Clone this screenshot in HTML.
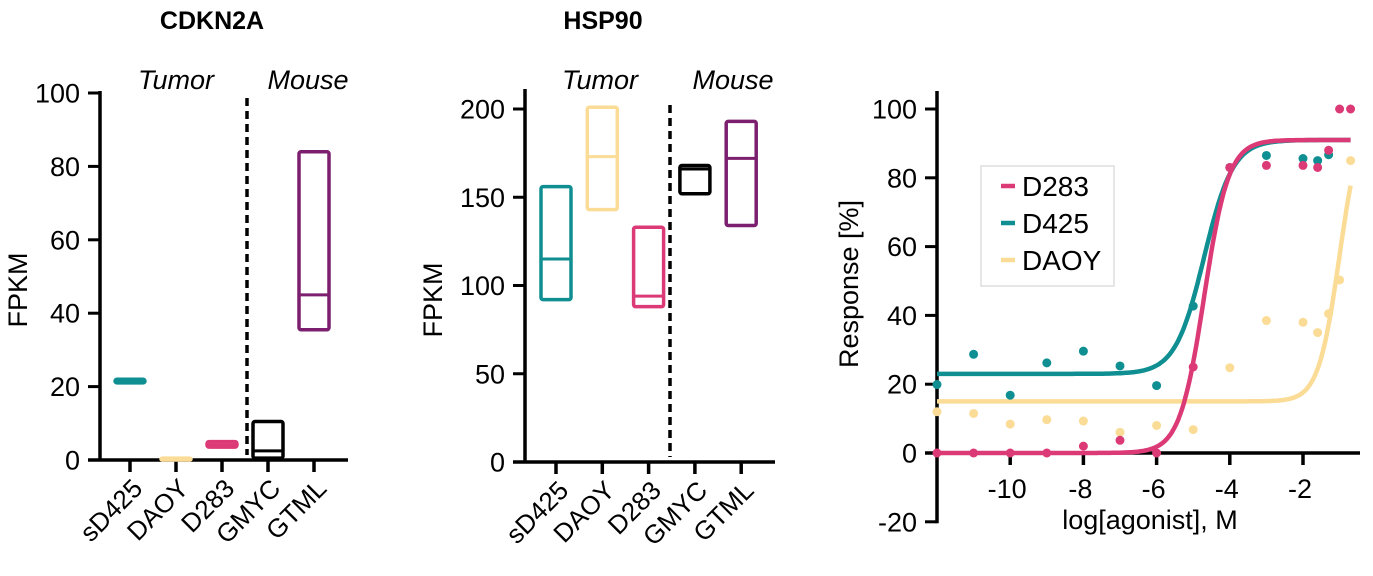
<!DOCTYPE html>
<html><head><meta charset="utf-8"><style>
body{margin:0;background:#fff;}
svg{display:block;font-family:"Liberation Sans",Arial,sans-serif;}
</style></head><body>
<svg id="root" width="1373" height="576" viewBox="0 0 1373 576"></svg>
<script>
const NS="http://www.w3.org/2000/svg";
const root=document.getElementById('root');
function mk(tag,attrs,parent,text){const e=document.createElementNS(NS,tag);for(const k in attrs)e.setAttribute(k,attrs[k]);if(text!==undefined)e.textContent=text;(parent||root).appendChild(e);return e;}

// ---------- data ----------
const boxCategories=["sD425","DAOY","D283","GMYC","GTML"];
const boxColors=["#0f8f92","#fbdc96","#dc3a76","#000000","#7b1f6e"];
const cdkn2aMin=[21,0,3.5,0.5,35.5];
const cdkn2aMed=[21.5,0.2,4.2,2.5,45];
const cdkn2aMax=[22,0.5,5,10.5,84];
const cdkn2aTicks=[0,20,40,60,80,100];
const hsp90Min=[92,143,88,152,134];
const hsp90Med=[115,173,94,166,172];
const hsp90Max=[156,201,133,168,193];
const hsp90Ticks=[0,50,100,150,200];

const doseX=[-12,-11,-10,-9,-8,-7,-6,-5,-4,-3,-2,-1.6,-1.3,-1.0,-0.7];
const d283Y=[0,0,0,0,2,3.7,0,25,83,83.6,83.6,83,88,100,100];
const d425Y=[19.9,28.7,16.8,26.2,29.6,25.3,19.6,42.7,83,86.5,85.6,85,86.7,null,null];
const daoyY=[12,11.5,8.4,9.7,9.3,6,8,6.8,24.8,38.5,38,35,40.5,50.3,85];
const fitBottom=[0,23,15];
const fitTop=[91,91,100];
const fitEC50=[-4.7,-4.7,-1.0];
const fitHill=[1.3,1.1,1.5];
const doseTicksX=[-10,-8,-6,-4,-2];
const doseTicksY=[-20,0,20,40,60,80,100];

// ---------- box panels ----------
function boxPanel(o){
  const g=mk('g',{},root);
  
  
  const ys=v=>o.y0+(v-0)*(o.y1-o.y0)/(o.vmax);
  const t=mk('text',{x:o.titleX,y:29,'text-anchor':'middle','font-size':25,'font-weight':'bold'},g,o.title);
  
  const ya=mk('line',{x1:o.ax,y1:o.axTop,x2:o.ax,y2:o.y0+1.5,stroke:'#000','stroke-width':3.5},g);
  
  const xa=mk('line',{x1:o.ax-12,y1:o.y0,x2:o.xEnd,y2:o.y0,stroke:'#000','stroke-width':3.5},g);
  
  o.ticks.forEach(v=>{
    const y=ys(v);
    mk('line',{x1:o.ax-12,y1:y,x2:o.ax,y2:y,stroke:'#000','stroke-width':3},g);
    const tl=mk('text',{x:o.ax-20,y:y+9.5,'text-anchor':'end','font-size':27},g,String(v));
    
  });
  const yl=mk('text',{transform:`translate(${o.ylx},${o.yly}) rotate(-90)`,'text-anchor':'middle','font-size':27},g,'FPKM');
  
  const tu=mk('text',{x:o.tumorX,y:89,'text-anchor':'middle','font-size':27,'font-style':'italic'},g,'Tumor');
  
  const mo=mk('text',{x:o.mouseX,y:89,'text-anchor':'middle','font-size':27,'font-style':'italic'},g,'Mouse');
  
  const dv=mk('line',{x1:o.divX,y1:o.divTop,x2:o.divX,y2:o.y0-5,stroke:'#000','stroke-width':3.5,'stroke-dasharray':'8,5'},g);
  
  boxCategories.forEach((c,i)=>{
    const cx=o.x0+i*o.dx;
    mk('line',{x1:cx,y1:o.y0,x2:cx,y2:o.y0+12,stroke:'#000','stroke-width':3.5},g);
    const lb=mk('text',{transform:`translate(${cx+14},${o.y0+30}) rotate(-45)`,'text-anchor':'end','font-size':26},g,c);
    
    const top=ys(o.max[i]),bot=ys(o.min[i]);
    const r=mk('rect',{x:cx-15,y:top,width:30,height:Math.max(bot-top,0.5),rx:2,fill:'none',stroke:boxColors[i],'stroke-width':3.5},g);
    
    const m=mk('line',{x1:cx-15,y1:ys(o.med[i]),x2:cx+15,y2:ys(o.med[i]),stroke:boxColors[i],'stroke-width':3},g);
    
  });
}
boxPanel({name:'cdkn2a-panel',title:'CDKN2A',titleX:212,ax:100,axTop:91,y0:460,y1:93,vmax:100,xEnd:348,x0:130,dx:46,
  ticks:cdkn2aTicks,min:cdkn2aMin,med:cdkn2aMed,max:cdkn2aMax,ylx:27,yly:290,tumorX:176,mouseX:308,divX:247,divTop:98});
boxPanel({name:'hsp90-panel',title:'HSP90',titleX:603,ax:525,axTop:89,y0:462,y1:109,vmax:200,xEnd:775,x0:556,dx:46.3,
  ticks:hsp90Ticks,min:hsp90Min,med:hsp90Med,max:hsp90Max,ylx:442,yly:300,tumorX:600,mouseX:733,divX:670,divTop:105});

// ---------- dose response ----------
const dg=mk('g',{},root);

const AX=937;
const xs=v=>AX+(v+12)*36.6;
const ys=v=>453-v*3.44;
const dya=mk('line',{x1:AX,y1:91,x2:AX,y2:ys(-20)+1.5,stroke:'#000','stroke-width':3.5},dg);

const dxa=mk('line',{x1:AX-12,y1:ys(0),x2:1360,y2:ys(0),stroke:'#000','stroke-width':3.5},dg);

doseTicksY.forEach(v=>{
  mk('line',{x1:AX-12,y1:ys(v),x2:AX,y2:ys(v),stroke:'#000','stroke-width':3},dg);
  const t=mk('text',{x:AX-20,y:ys(v)+9.5,'text-anchor':'end','font-size':27},dg,String(v));
  
});
doseTicksX.forEach(v=>{
  mk('line',{x1:xs(v),y1:ys(0),x2:xs(v),y2:ys(0)+12,stroke:'#000','stroke-width':3.5},dg);
  const t=mk('text',{x:xs(v)-3,y:ys(0)+45,'text-anchor':'middle','font-size':27},dg,String(v));
  
});
const xt=mk('text',{x:1150,y:529,'text-anchor':'middle','font-size':27},dg,'log[agonist], M');

const yt=mk('text',{transform:'translate(858,284) rotate(-90)','text-anchor':'middle','font-size':27},dg,'Response [%]');


const seriesNames=['D283','D425','DAOY'];
const seriesColors=['#dc3a76','#0f8f92','#fbdc96'];
const seriesData=[d283Y,d425Y,daoyY];
[2,1,0].forEach(s=>{
  const col=seriesColors[s];
  seriesData[s].forEach((v,i)=>{
    if(v===null)return;
    const c=mk('circle',{cx:xs(doseX[i]),cy:ys(v),r:4.5,fill:col},dg);
    
  });
  let d='';
  for(let k=0;k<=300;k++){
    const x=-12+k*(11.3/300);
    const y=fitBottom[s]+(fitTop[s]-fitBottom[s])/(1+Math.pow(10,(fitEC50[s]-x)*fitHill[s]));
    d+=(k?'L':'M')+xs(x).toFixed(1)+','+ys(y).toFixed(1);
  }
  const p=mk('path',{d:d,fill:'none',stroke:col,'stroke-width':4.5},dg);
  
});
const lg=mk('g',{},dg);

mk('rect',{x:981,y:166,width:133,height:120,fill:'#fff',stroke:'#ddd','stroke-width':1.5},lg);
seriesNames.forEach((n,i)=>{
  const y=186+i*37;
  const e=mk('g',{},lg);
  
  mk('line',{x1:1001,y1:y,x2:1015,y2:y,stroke:seriesColors[i],'stroke-width':4.5},e);
  mk('text',{x:1022,y:y+10,'font-size':28},e,n);
});
</script>
</body></html>
